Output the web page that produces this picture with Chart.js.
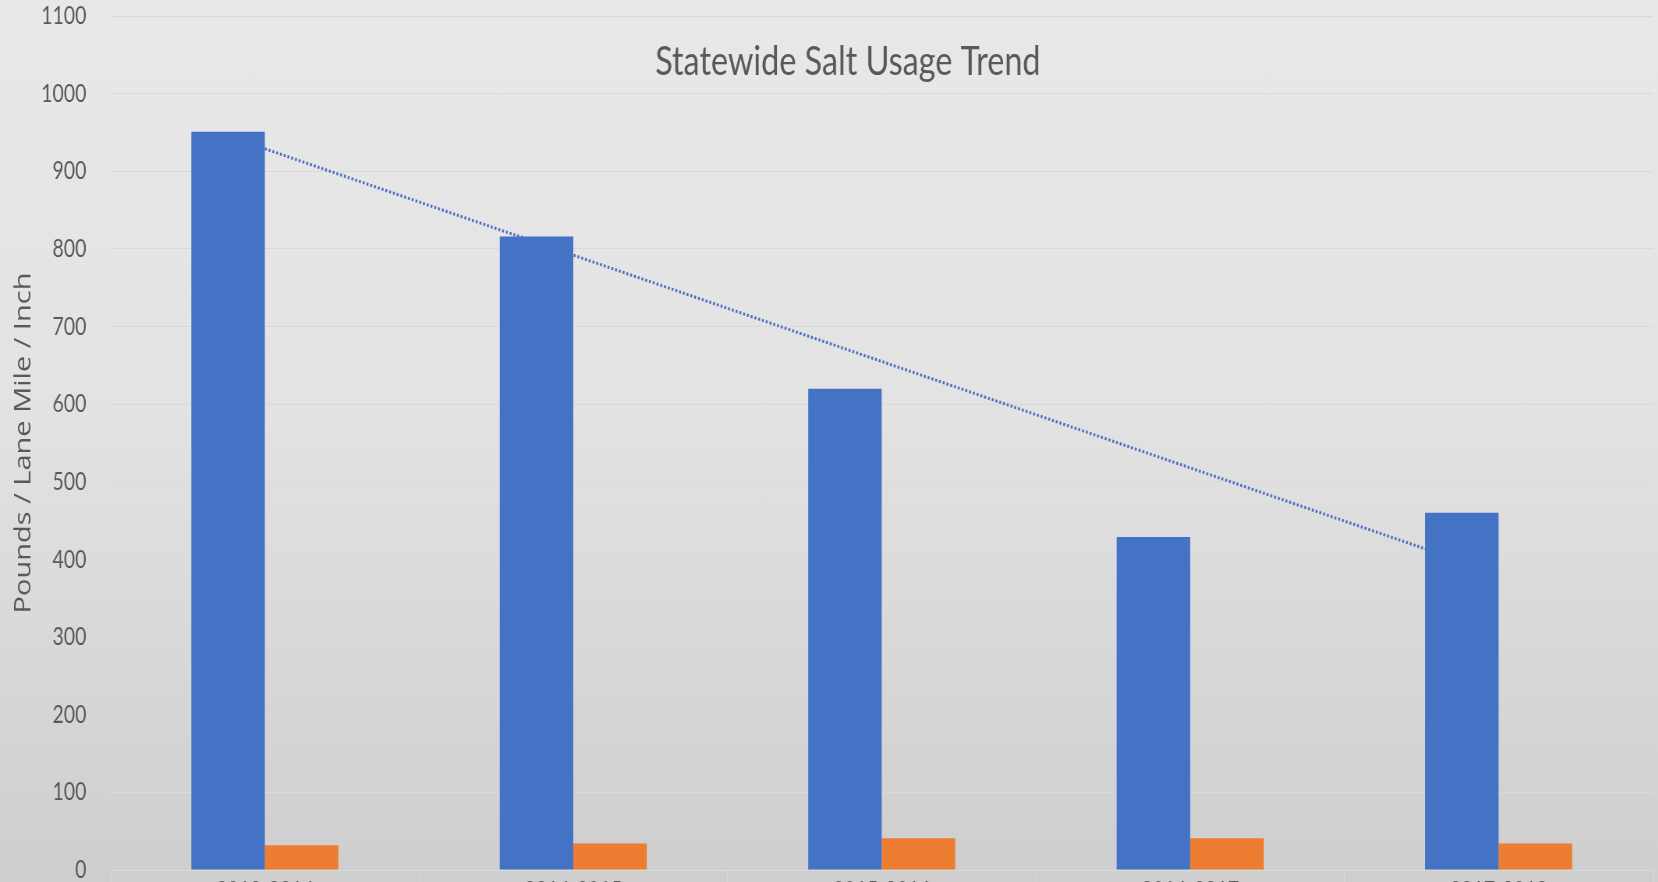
<!DOCTYPE html>
<html>
<head>
<meta charset="utf-8">
<title>Statewide Salt Usage Trend</title>
<script src="https://cdn.jsdelivr.net/npm/chart.js@4.4.1/dist/chart.umd.min.js"></script>
<style>
  html, body { margin: 0; padding: 0; height: 100%; overflow: hidden; }
  body { background: linear-gradient(to bottom, #e9e8e9 0%, #e3e3e3 45%, #cecece 100%); }
  /* the source picture is squeezed sideways, so the whole chart is too */
  #wrap { width: 2126px; height: 898px; transform: scaleX(0.78); transform-origin: 0 0; }
</style>
</head>
<body>
<div id="wrap"><canvas id="saltChart" width="2126" height="898"></canvas></div>
<script>
// values
var seasons = ['2013-2014', '2014-2015', '2015-2016', '2016-2017', '2017-2018'];
var saltUsed = [951, 816, 620, 429, 460];      // blue bars
var otherUsed = [32, 34, 41, 41, 34];          // orange bars
var trendLine = [929, 792, 655, 518, 381];     // dotted trend
var yTicks = { min: 0, max: 1100, step: 100 };

var chartTitle = 'Statewide Salt Usage Trend';
var yTitle = 'Pounds / Lane Mile / Inch';

var textGrey = '#595959';

// title sits inside the plot area, so it is drawn by hand
var titlePlugin = {
    id: 'insideTitle',
    afterDraw: function(chart) {
        var ctx = chart.ctx;
        ctx.save();
        ctx.font = '41.5px Lato, "Open Sans", sans-serif';
        ctx.fillStyle = textGrey;
        ctx.textAlign = 'center';
        ctx.textBaseline = 'alphabetic';
        ctx.fillText(chartTitle, chart.width / 2 + 24, 75);
        ctx.restore();
    }
};

document.addEventListener('DOMContentLoaded', function() {
    var ctx = document.getElementById('saltChart').getContext('2d');
    new Chart(ctx, {
        type: 'bar',
        data: {
            labels: seasons,
            datasets: [{
                label: 'Salt',
                data: saltUsed,
                backgroundColor: '#4472C4',
                borderWidth: 0,
                order: 1
            }, {
                label: 'Other',
                data: otherUsed,
                backgroundColor: '#ED7D31',
                borderWidth: 0,
                order: 1
            }, {
                type: 'line',
                label: 'Trend',
                data: trendLine,
                borderColor: '#4a6fbf',
                borderWidth: 3,
                borderDash: [2.5, 2.5],
                pointRadius: 0,
                fill: false,
                tension: 0,
                order: 2
            }]
        },
        options: {
            responsive: false,
            animation: false,
            devicePixelRatio: 1,
            categoryPercentage: 0.4765,
            barPercentage: 1,
            layout: { padding: { left: 8, right: 7, top: 0, bottom: 0 } },
            plugins: {
                legend: { display: false },
                tooltip: { enabled: false },
                title: { display: false }
            },
            scales: {
                x: {
                    grid: {
                        drawOnChartArea: false,
                        drawTicks: true,
                        tickLength: 14,
                        tickColor: '#dadada',
                        offset: true
                    },
                    border: { display: true, color: '#dadada', width: 1 },
                    ticks: {
                        color: textGrey,
                        font: { family: 'Lato, "Open Sans", sans-serif', size: 25 },
                        padding: -8,
                        maxRotation: 0
                    }
                },
                y: {
                    min: yTicks.min,
                    max: yTicks.max,
                    grid: {
                        color: '#d9d9d9',
                        lineWidth: 1,
                        drawTicks: true,
                        tickLength: 30,
                        tickColor: 'rgba(0,0,0,0)'
                    },
                    border: { display: false },
                    ticks: {
                        stepSize: yTicks.step,
                        color: textGrey,
                        padding: 1,
                        font: { family: 'Lato, "Open Sans", sans-serif', size: 25 },
                        callback: function(v) { return String(v); }
                    },
                    title: {
                        display: true,
                        text: yTitle,
                        color: textGrey,
                        padding: { top: 5, bottom: 4 },
                        font: { family: '"Open Sans", sans-serif', size: 29 }
                    }
                }
            }
        },
        plugins: [titlePlugin]
    });
});
</script>
</body>
</html>
